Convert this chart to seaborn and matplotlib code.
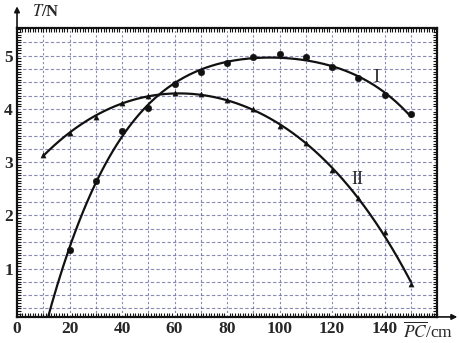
import numpy as np
import pandas as pd
import seaborn as sns
import matplotlib.pyplot as plt
from matplotlib.ticker import MultipleLocator

# readings: PC length (cm) and tension T (N)
pc_I = [20, 30, 40, 50, 60, 70, 80, 90, 100, 110, 120, 130, 140, 150]
t_I = [1.35, 2.65, 3.58, 4.01, 4.47, 4.69, 4.86, 4.97, 5.03, 4.97, 4.78, 4.58, 4.26, 3.90]

pc_II = [10, 20, 30, 40, 50, 60, 70, 80, 90, 100, 110, 120, 130, 140, 150]
t_II = [3.13, 3.55, 3.85, 4.11, 4.24, 4.30, 4.28, 4.17, 4.00, 3.68, 3.36, 2.85, 2.33, 1.69, 0.71]

x_ticks = [0, 20, 40, 60, 80, 100, 120, 140]
y_ticks = [1, 2, 3, 4, 5]

sns.set_theme(style="white")
plt.rcParams["font.family"] = ["Liberation Serif", "DejaVu Serif"]
plt.rcParams["mathtext.fontset"] = "stix"

fig = plt.figure(figsize=(4.6, 3.43), dpi=100)
ax = fig.add_axes([0.037, 0.076, 0.913, 0.842])

ink = "#111111"
paper = "#262b78"

# smooth hand-drawn style curves: polynomial fits through the points
cI = np.polyfit(pc_I, t_I, 4)
xs_I = np.linspace(9, 150, 200)
curve_I = pd.DataFrame({"x": xs_I, "y": np.polyval(cI, xs_I)})
cII = np.polyfit(pc_II, t_II, 4)
xs_II = np.linspace(10, 150, 200)
curve_II = pd.DataFrame({"x": xs_II, "y": np.polyval(cII, xs_II)})

sns.lineplot(data=curve_I, x="x", y="y", ax=ax, color=ink, lw=1.6, sort=False)
sns.lineplot(data=curve_II, x="x", y="y", ax=ax, color=ink, lw=1.6, sort=False)
sns.scatterplot(x=pc_I, y=t_I, ax=ax, color=ink, marker="o", s=22, edgecolor=ink, zorder=5)
sns.scatterplot(x=pc_II, y=t_II, ax=ax, color=ink, marker="^", s=14, edgecolor=ink, zorder=5)

ax.set_xlim(0, 160)
ax.set_ylim(0.09, 5.52)

# graph-paper grid from the scan
for gx in range(10, 160, 10):
    ax.axvline(gx, color=paper, lw=0.8, alpha=0.55, ls=(0, (2, 2)), zorder=0)
for gy in np.arange(0.25, 5.5, 0.25):
    ax.axhline(gy, color=paper, lw=0.8, alpha=0.55, ls=(0, (3, 2)), zorder=0)

ax.set_xticks(x_ticks)
ax.set_yticks(y_ticks)
ax.set_xticklabels([str(v) for v in x_ticks], fontsize=12.5, fontweight="bold")
ax.set_yticklabels([str(v) for v in y_ticks], fontsize=12.5, fontweight="bold")
ax.xaxis.set_minor_locator(MultipleLocator(1))
ax.yaxis.set_minor_locator(MultipleLocator(0.05))
ax.tick_params(which="major", direction="in", length=0, pad=3)
ax.tick_params(which="minor", direction="in", length=3, width=0.8, color=ink,
               top=True, right=True, bottom=True, left=True)
for sp in ax.spines.values():
    sp.set_color(ink)
    sp.set_linewidth(1.6)

ax.set_xlabel("")
ax.set_ylabel("")

# axis arrows beyond the frame
ax.annotate("", xy=(1.055, 0), xytext=(0.99, 0), xycoords="axes fraction",
            arrowprops=dict(arrowstyle="-|>", color=ink, lw=1.2, mutation_scale=8))
ax.annotate("", xy=(0, 1.085), xytext=(0, 0.99), xycoords="axes fraction",
            arrowprops=dict(arrowstyle="-|>", color=ink, lw=1.2, mutation_scale=8))

ax.text(0.035, 1.055, "$T$/N", transform=ax.transAxes, fontsize=12,
        fontweight="bold", ha="left", va="center")
ax.text(0.92, -0.05, r"$\overline{PC}$/cm", transform=ax.transAxes, fontsize=12.5,
        ha="left", va="center")

ax.text(137, 4.6, "I", fontsize=13, ha="center", va="center")
ax.text(129.5, 2.68, "II", fontsize=13, ha="center", va="center")

fig.savefig("out.png", dpi=100)
